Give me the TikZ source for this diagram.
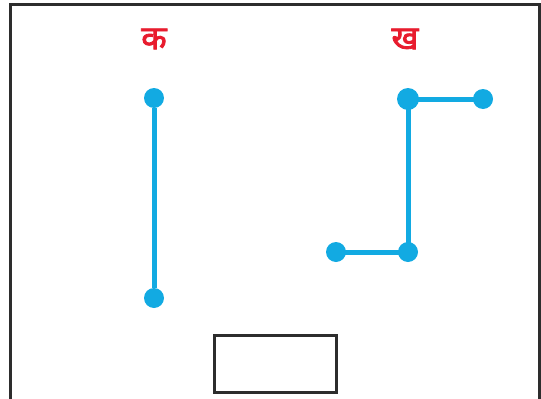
\documentclass[tikz,border=0pt]{standalone}
\usepackage{fontspec}
\newfontfamily\devfont[Script=Devanagari,FakeBold=2.5]{Noto Sans}
\definecolor{dotblue}{RGB}{18,170,226}
\definecolor{labred}{RGB}{232,28,46}
\definecolor{framegray}{RGB}{45,45,45}
\begin{document}
\begin{tikzpicture}[x=1pt,y=1pt,
  dot/.style={circle,fill=dotblue,inner sep=0pt,minimum size=20pt},
  bigdot/.style={dot,minimum size=22pt},
  seg/.style={draw=dotblue,line width=5pt},
  lab/.style={text=labred,font=\devfont\fontsize{33}{36}\selectfont,inner sep=0pt}]
\useasboundingbox (0,0) rectangle (541,-399);
\clip (0,0) rectangle (541,-399);
\draw[framegray,line width=3pt] (10,-4) rectangle (539,-410);
\node[lab] (lk) at (154,-39) {क};
\node[lab] (lkh) at (405,-39) {ख};
% figure ka
\node[dot] (a1) at (154,-98) {};
\node[dot] (a2) at (154,-298) {};
\draw[seg] (a1) -- (a2);
% figure kha
\node[bigdot] (b1) at (408,-99) {};
\node[dot] (b2) at (483,-99) {};
\node[dot] (b3) at (408,-252) {};
\node[dot] (b4) at (336,-252) {};
\draw[seg] (b1.center) -- (b2.center);
\draw[seg] (b1.center) -- (b3.center);
\draw[seg] (b3.center) -- (b4.center);
% empty answer box
\node[draw=framegray,line width=3pt,minimum width=122pt,minimum height=57pt,inner sep=0pt] (box) at (275.5,-364) {};
\end{tikzpicture}
\end{document}
